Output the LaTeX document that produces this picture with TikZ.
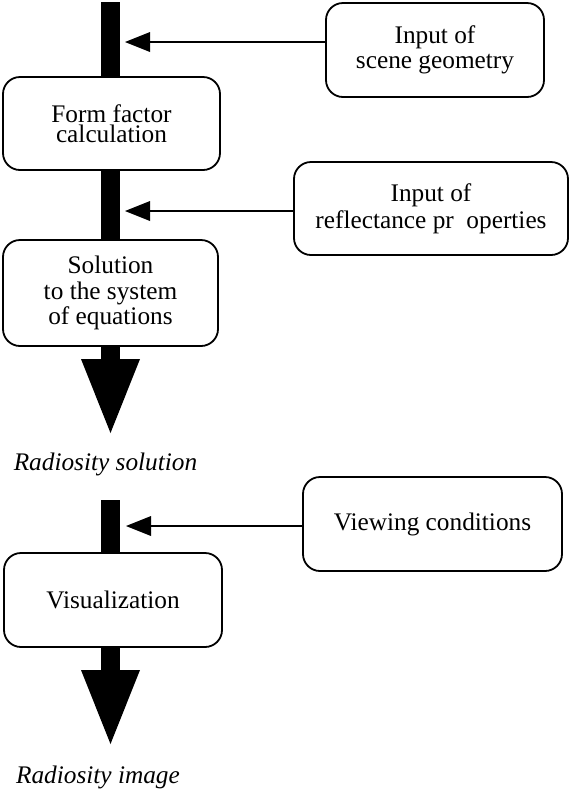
\documentclass[tikz,border=0pt]{standalone}
\usepackage{fontspec}
\setmainfont{Liberation Serif}
\usetikzlibrary{arrows.meta}

\begin{document}
\begin{tikzpicture}[x=1pt, y=-1pt,
	stage/.style={draw, line width=1.8pt, rounded corners=17pt, fill=white, align=center,
		inner sep=0pt, font=\fontsize{25.3}{25.5}\selectfont},
	outcome/.style={inner sep=0pt, font=\fontsize{25.3}{25.5}\selectfont\itshape},
	pipe/.style={line width=19pt},
	flow/.style={line width=19pt, -{Triangle[width=59pt, length=74pt, line width=0pt]}},
	feed/.style={line width=1.3pt, -{Triangle[width=20pt, length=25pt, line width=0pt]}}]
	\useasboundingbox (0,0) rectangle (572,796);

	% Draw boxes
	\node[stage, minimum width=217pt, minimum height=93pt,
		font=\fontsize{25.3}{20}\selectfont] (form) at (111.5,123.5) {Form factor\\calculation};
	\node[stage, minimum width=215pt, minimum height=106pt] (solve) at (110.5,293)
		{Solution\\to the system\\of equations};
	\node[stage, minimum width=218pt, minimum height=94pt] (vis) at (113,600) {Visualization};
	\node[stage, minimum width=218pt, minimum height=94pt,
		font=\fontsize{25.3}{25}\selectfont] (geom) at (435,50) {Input of\\scene geometry};
	\node[stage, minimum width=274pt, minimum height=93pt,
		font=\fontsize{25.3}{27}\selectfont] (refl) at (431,208.5) {Input of\\reflectance pr\ \ operties};
	\node[stage, minimum width=259pt, minimum height=94pt] (view) at (432.5,524) {Viewing conditions};

	% Draw results
	\node[outcome, anchor=base] (sol) at (105.5,470) {Radiosity solution};
	\node[outcome, anchor=base] (img) at (98,783) {Radiosity image};

	% Draw main flow
	\coordinate (top1) at (110.5,2);
	\coordinate (tip1) at (110.5,433);
	\coordinate (top2) at (110.5,500);
	\coordinate (tip2) at (110.5,744);
	\draw[pipe] (top1) -- (top1 |- form.north);
	\draw[pipe] (form.south -| top1) -- (solve.north -| top1);
	\draw[flow] (solve.south -| top1) -- (tip1);
	\draw[pipe] (top2) -- (top2 |- vis.north);
	\draw[flow] (vis.south -| top2) -- (tip2);

	% Draw inputs
	\coordinate (in1) at (125,42);
	\coordinate (in2) at (125,211);
	\coordinate (in3) at (126,526);
	\draw[feed] (geom.west |- in1) -- (in1);
	\draw[feed] (refl.west |- in2) -- (in2);
	\draw[feed] (view.west |- in3) -- (in3);
\end{tikzpicture}
\end{document}
